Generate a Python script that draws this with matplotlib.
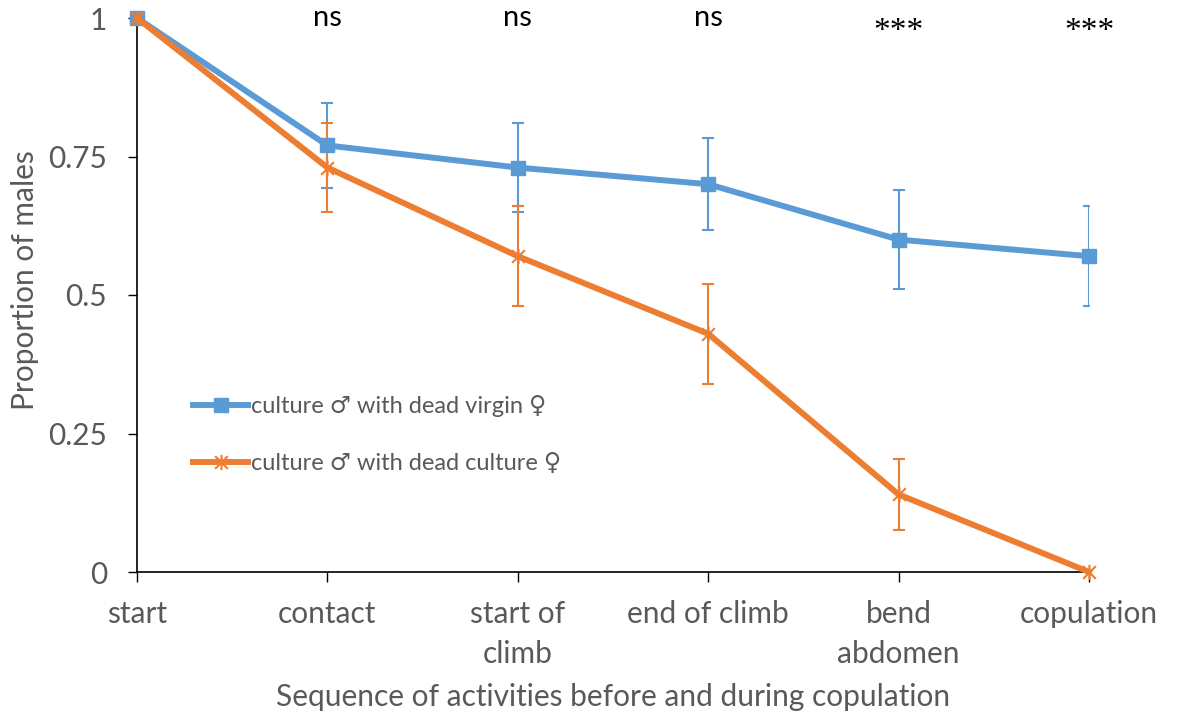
import matplotlib.pyplot as plt
from matplotlib.path import Path

plt.rcParams['font.family'] = ['Lato', 'DejaVu Sans']

stages = ["start", "contact", "start of\nclimb", "end of climb", "bend\nabdomen", "copulation"]
virgin = [1.0, 0.77, 0.73, 0.70, 0.60, 0.57]
virgin_err = [0, 0.076, 0.08, 0.083, 0.089, 0.09]
culture = [1.0, 0.73, 0.57, 0.43, 0.14, 0.0]
culture_err = [0, 0.08, 0.09, 0.09, 0.064, 0]
signif = ["", "ns", "ns", "ns", "***", "***"]

blue = "#5B9BD5"
orange = "#ED7D31"
grey = "#595959"

# x with a vertical bar through it
star = Path([(-1, -1), (1, 1), (-1, 1), (1, -1), (0, -1.2), (0, 1.2)],
            [Path.MOVETO, Path.LINETO, Path.MOVETO, Path.LINETO, Path.MOVETO, Path.LINETO])

fig = plt.figure(figsize=(11.77, 7.17), dpi=100)
ax = fig.add_axes([137 / 1177, 145 / 717, 952 / 1177, 554 / 717])
x = list(range(len(stages)))

# error bars under the lines
ax.errorbar(x[1:], virgin[1:], yerr=virgin_err[1:], fmt="none", ecolor=blue,
            elinewidth=1.5, capsize=4.5, capthick=1.5, zorder=2)
ax.errorbar(x[1:5], culture[1:5], yerr=culture_err[1:5], fmt="none", ecolor=orange,
            elinewidth=1.5, capsize=4.5, capthick=1.5, zorder=2.1)

ax.plot(x, virgin, color=blue, lw=4.3, marker="s", ms=10, clip_on=False, zorder=3,
        label="culture \u2642 with dead virgin \u2640")
ax.plot(x, culture, color=orange, lw=4.3, marker=star, ms=11, mew=1.5, clip_on=False, zorder=4,
        label="culture \u2642 with dead culture \u2640")

# significance marks above each stage
for i, s in enumerate(signif):
    if s == "ns":
        ax.text(i, 1.0, s, ha="center", va="center", fontsize=21, color="black")
    elif s:
        ax.text(i, 0.975, s, ha="center", va="center", fontsize=24, color="black",
                family="Liberation Serif")

ax.set_xlim(0, 5)
ax.set_ylim(0, 1)
ax.set_xticks(x)
ax.set_xticklabels(stages, fontsize=21.5, color=grey, linespacing=1.55)
ax.set_yticks([0, 0.25, 0.5, 0.75, 1])
ax.set_yticklabels(["0", "0.25", "0.5", "0.75", "1"], fontsize=21.5, color=grey)
ax.tick_params(axis="y", length=6.5, width=1, pad=15, direction="out")
ax.tick_params(axis="x", length=7, width=1, pad=13, direction="out")

for side in ["top", "right"]:
    ax.spines[side].set_visible(False)
for side in ["left", "bottom"]:
    ax.spines[side].set_linewidth(1.2)
    ax.spines[side].set_color("black")

ax.set_ylabel("Proportion of males", fontsize=21.5, color=grey)
ax.yaxis.set_label_coords(-0.103, 0.527)
ax.set_xlabel("Sequence of activities before and during copulation", fontsize=21.5, color=grey)
ax.xaxis.set_label_coords(0.5, -0.2)

ax.legend(loc="upper left", bbox_to_anchor=(0.037, 0.357), frameon=False, fontsize=17,
          handlelength=2.3, handletextpad=0.15, labelspacing=1.5, labelcolor=grey)

fig.savefig("out.png", dpi=100)
